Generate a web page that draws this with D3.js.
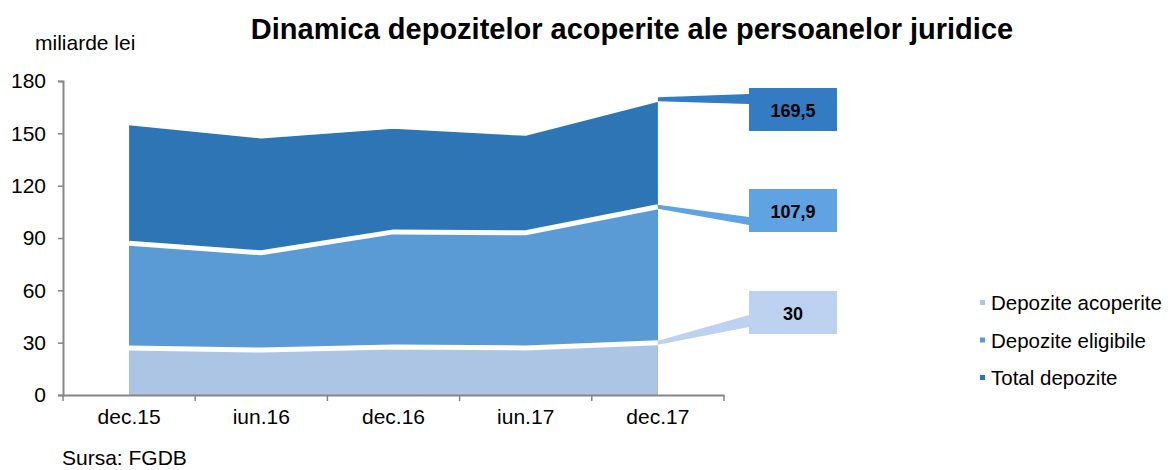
<!DOCTYPE html>
<html>
<head>
<meta charset="utf-8">
<script src="https://cdn.jsdelivr.net/npm/d3@7"></script>
<style>
  body { margin: 0; background: #fff; }
  text { font-family: "Liberation Sans", Arial, sans-serif; }
</style>
</head>
<body>
<div id="chart"></div>
<script>
// data
const periods = ['dec.15', 'iun.16', 'dec.16', 'iun.17', 'dec.17']
const totalDepozite = [156, 148.5, 154, 150, 169.5]
const depoziteEligibile = [87, 81.5, 93.5, 93, 107.9]
const depoziteAcoperite = [27, 25.8, 27.5, 27, 30]
const yTicks = [0, 30, 60, 90, 120, 150, 180]
const labels = ['169,5', '107,9', '30']

const width = 1170, height = 470
const margin = {top: 81, right: 446, bottom: 75, left: 63}

const svg = d3.select('#chart').append('svg')
  .attr('width', width).attr('height', height)

const x = d3.scaleBand().domain(periods).range([margin.left, width - margin.right]).padding(0)
const y = d3.scaleLinear().domain([0, 180]).range([height - margin.bottom, margin.top])
const cx = d => x(d) + x.bandwidth() / 2

const series = [
  {name: 'Total depozite', values: totalDepozite, color: '#2E75B6', box: '#337BC2'},
  {name: 'Depozite eligibile', values: depoziteEligibile, color: '#5B9BD5', box: '#5FA3E2'},
  {name: 'Depozite acoperite', values: depoziteAcoperite, color: '#ADC5E4', box: '#BDD2F0'}
]

const area = d3.area()
  .x((d, i) => cx(periods[i]))
  .y0(y(0))
  .y1(d => y(d))

series.forEach(s => {
  svg.append('path')
    .datum(s.values)
    .attr('fill', s.color)
    .attr('d', area)
  // white separator along the top edge
  svg.append('path')
    .datum(s.values)
    .attr('fill', 'none')
    .attr('stroke', '#fff')
    .attr('stroke-width', 5)
    .attr('d', d3.line().x((d, i) => cx(periods[i])).y(d => y(d)))
})

// axes
const yAxis = svg.append('g')
  .attr('transform', `translate(${margin.left},0)`)
  .call(d3.axisLeft(y).tickValues(yTicks).tickSize(5).tickPadding(12))
yAxis.select('.domain').attr('stroke', '#868686').attr('stroke-width', 2)
yAxis.selectAll('.tick line').attr('stroke', '#868686').attr('stroke-width', 1.5)
yAxis.selectAll('.tick text').attr('font-size', 21).attr('fill', '#000')
  .style('font-family', '"Liberation Sans", Arial, sans-serif')

const xAxis = svg.append('g')
  .attr('transform', `translate(0,${y(0)})`)
  .call(d3.axisBottom(x).tickSize(0).tickPadding(14))
xAxis.select('.domain').attr('stroke', '#868686').attr('stroke-width', 2)
xAxis.selectAll('.tick text').attr('font-size', 21).attr('fill', '#000')
  .style('font-family', '"Liberation Sans", Arial, sans-serif')
// band boundary ticks
const bounds = periods.map(p => x(p)).concat([x(periods[periods.length - 1]) + x.bandwidth()])
xAxis.selectAll('.bound').data(bounds).enter().append('line')
  .attr('x1', d => d).attr('x2', d => d)
  .attr('y1', 0).attr('y2', 6)
  .attr('stroke', '#868686').attr('stroke-width', 1.5)

// callout boxes
const last = periods[periods.length - 1]
const boxX = 749, boxW = 88, boxH = 43
const boxTops = [88, 189, 291]
series.forEach((s, i) => {
  const px = cx(last)
  const py = y(s.values[s.values.length - 1])
  const top = boxTops[i]
  let w1, w2
  if (i === 0) { w1 = top + 6; w2 = top + 16 }
  else if (i === 1) { w1 = top + 28; w2 = top + 36 }
  else { w1 = top + 24; w2 = top + 36 }
  svg.append('path')
    .attr('d', `M${px},${py - 2}L${boxX},${w1}L${boxX},${w2}L${px},${py + 2}Z`)
    .attr('fill', s.box)
  svg.append('rect')
    .attr('x', boxX).attr('y', top)
    .attr('width', boxW).attr('height', boxH)
    .attr('fill', s.box)
  svg.append('text')
    .attr('x', boxX + boxW / 2).attr('y', top + boxH / 2 + 7)
    .attr('text-anchor', 'middle')
    .attr('font-size', 18).attr('font-weight', 'bold')
    .text(labels[i])
})

// legend
const legend = svg.append('g')
series.slice().reverse().forEach((s, i) => {
  const ly = 303 + i * 37.5
  legend.append('rect')
    .attr('x', 980).attr('y', ly - 3).attr('width', 5).attr('height', 5)
    .attr('fill', s.color)
  legend.append('text')
    .attr('x', 991).attr('y', ly + 7)
    .attr('font-size', 20.5)
    .text(s.name)
})

// titles and notes
svg.append('text')
  .attr('x', 632).attr('y', 39)
  .attr('text-anchor', 'middle')
  .attr('font-size', 29).attr('font-weight', 'bold')
  .text('Dinamica depozitelor acoperite ale persoanelor juridice')

svg.append('text')
  .attr('x', 35).attr('y', 50)
  .attr('font-size', 21)
  .text('miliarde lei')

svg.append('text')
  .attr('x', 62).attr('y', 465)
  .attr('font-size', 21)
  .text('Sursa: FGDB')
</script>
</body>
</html>
